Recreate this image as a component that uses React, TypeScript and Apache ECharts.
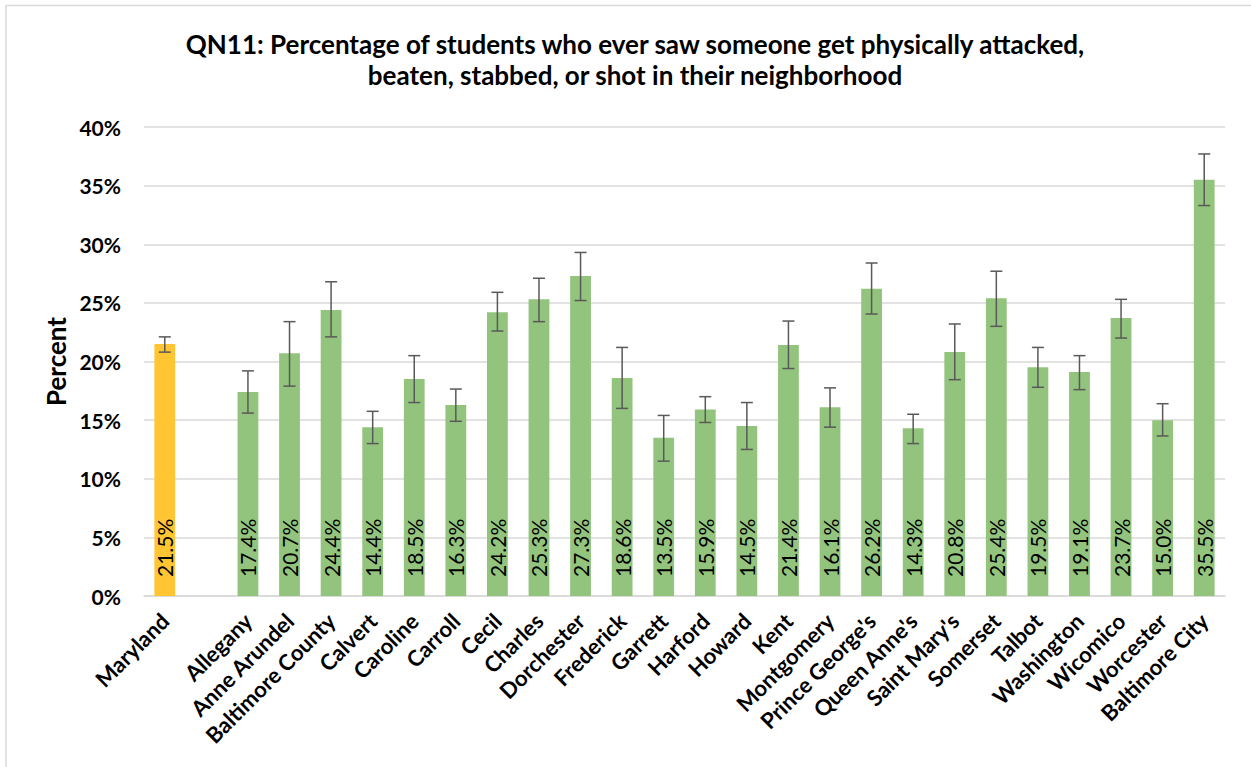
import React, { useEffect, useRef } from "react";
import * as echarts from "echarts";

const categories = [
  "Maryland", "", "Allegany", "Anne Arundel", "Baltimore County", "Calvert", "Caroline",
  "Carroll", "Cecil", "Charles", "Dorchester", "Frederick", "Garrett", "Harford",
  "Howard", "Kent", "Montgomery", "Prince George's", "Queen Anne's", "Saint Mary's",
  "Somerset", "Talbot", "Washington", "Wicomico", "Worcester", "Baltimore City",
];
const values: (number | null)[] = [
  21.5, null, 17.4, 20.7, 24.4, 14.4, 18.5, 16.3, 24.2, 25.3, 27.3, 18.6, 13.5, 15.9,
  14.5, 21.4, 16.1, 26.2, 14.3, 20.8, 25.4, 19.5, 19.1, 23.7, 15.0, 35.5,
];
const lowerCI: (number | null)[] = [
  20.8, null, 15.6, 17.9, 22.1, 13.0, 16.5, 14.9, 22.6, 23.4, 25.2, 16.0, 11.5, 14.8,
  12.5, 19.4, 14.4, 24.05, 13.0, 18.45, 23.0, 17.8, 17.6, 22.0, 13.65, 33.3,
];
const upperCI: (number | null)[] = [
  22.1, null, 19.2, 23.4, 26.8, 15.75, 20.5, 17.65, 25.9, 27.1, 29.3, 21.2, 15.4, 17.0,
  16.5, 23.45, 17.75, 28.4, 15.5, 23.2, 27.7, 21.2, 20.5, 25.3, 16.4, 37.7,
];
const yTicks = [0, 5, 10, 15, 20, 25, 30, 35, 40];

const TITLE =
  "QN11: Percentage of students who ever saw someone get physically attacked,\nbeaten, stabbed, or shot in their neighborhood";

export default function App() {
  const ref = useRef<HTMLDivElement>(null);
  useEffect(() => {
    if (!ref.current) return;
    const chart = echarts.init(ref.current, undefined, { renderer: "svg" });
    const FONT = "Lato";
    const barData = values.map((v, i) =>
      v === null
        ? null
        : {
            value: v,
            itemStyle: { color: i === 0 ? "#FFC533" : "#93C47D" },
          }
    );
    const errData = values
      .map((v, i) => (v === null ? null : [i, lowerCI[i], upperCI[i]]))
      .filter((d) => d !== null);
    chart.setOption({
      animation: false,
      backgroundColor: "#ffffff",
      textStyle: { fontFamily: FONT },
      title: {
        text: TITLE,
        left: 630,
        top: 23,
        textAlign: "center",
        textStyle: {
          fontFamily: FONT,
          fontSize: 26,
          fontWeight: "bold",
          color: "#000",
          lineHeight: 31,
        },
      },
      graphic: [
        {
          type: "rect",
          shape: { x: 6, y: 5.5, width: 1260, height: 780 },
          style: { fill: "none", stroke: "#d9d9d9", lineWidth: 1.5 },
          silent: true,
        },
      ],
      grid: { left: 144, right: 26, top: 127, bottom: 171, containLabel: false },
      xAxis: {
        type: "category",
        data: categories,
        axisTick: { show: false },
        axisLine: { show: true, lineStyle: { color: "#d9d9d9", width: 1.5 } },
        axisLabel: {
          interval: 0,
          rotate: 45,
          fontFamily: FONT,
          fontSize: 22,
          fontWeight: "bold",
          color: "#000",
          margin: 21,
        },
      },
      yAxis: {
        type: "value",
        min: 0,
        max: 40,
        interval: 5,
        name: "Percent",
        nameLocation: "middle",
        nameRotate: 90,
        nameGap: 74,
        nameTextStyle: { fontFamily: FONT, fontSize: 26, fontWeight: "bold", color: "#000" },
        axisLine: { show: false },
        axisTick: { show: false },
        splitLine: { lineStyle: { color: "#d9d9d9", width: 1.5 } },
        axisLabel: {
          formatter: (v: number) => (yTicks.includes(v) ? v + "%" : ""),
          fontFamily: FONT,
          fontSize: 21,
          fontWeight: "bold",
          color: "#000",
          margin: 23,
        },
      },
      series: [
        {
          type: "bar",
          data: barData,
          barWidth: "50%",
          label: {
            show: true,
            position: "insideBottom",
            rotate: 90,
            align: "left",
            verticalAlign: "middle",
            distance: 19,
            fontFamily: FONT,
            fontSize: 21,
            color: "#000",
            formatter: (p: any) => Number(p.value).toFixed(1) + "%",
          },
        },
        {
          type: "custom",
          data: errData,
          z: 10,
          renderItem: (params: any, api: any) => {
            const x = api.value(0);
            const lo = api.coord([x, api.value(1)]);
            const hi = api.coord([x, api.value(2)]);
            const w = 6;
            const style = { stroke: "#595959", lineWidth: 1.5 };
            return {
              type: "group",
              children: [
                { type: "line", shape: { x1: hi[0], y1: hi[1], x2: lo[0], y2: lo[1] }, style },
                { type: "line", shape: { x1: hi[0] - w, y1: hi[1], x2: hi[0] + w, y2: hi[1] }, style },
                { type: "line", shape: { x1: lo[0] - w, y1: lo[1], x2: lo[0] + w, y2: lo[1] }, style },
              ],
            };
          },
        },
      ],
    });
    return () => chart.dispose();
  }, []);
  return (
    <div
      ref={ref}
      style={{ position: "absolute", left: 0, top: 0, width: 1251, height: 767 }}
    />
  );
}
